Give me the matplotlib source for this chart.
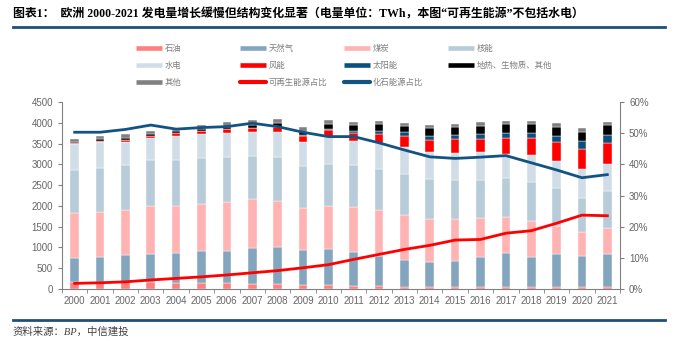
import matplotlib.pyplot as plt
import numpy as np
from matplotlib.lines import Line2D

plt.rcParams['font.family'] = ['Liberation Sans', 'Noto Sans CJK SC']

years = [str(y) for y in range(2000, 2022)]

# 发电量（TWh）
oil = [180, 170, 165, 170, 150, 150, 140, 120, 120, 100, 90, 75, 75, 60, 55, 55, 55, 55, 50, 45, 40, 40]
gas = [558, 593, 653, 679, 723, 771, 781, 859, 898, 846, 880, 823, 719, 638, 602, 626, 722, 803, 727, 789, 762, 802]
coal = [1083, 1090, 1083, 1148, 1124, 1124, 1172, 1179, 1106, 1003, 1020, 1067, 1099, 1082, 1019, 995, 924, 882, 859, 682, 577, 634]
nuclear = [1042, 1066, 1090, 1107, 1107, 1114, 1090, 1049, 1044, 1010, 1025, 1018, 994, 987, 971, 947, 922, 923, 931, 921, 818, 882]
hydro = [618, 618, 553, 536, 585, 563, 578, 563, 602, 585, 635, 578, 634, 657, 657, 657, 673, 585, 649, 643, 683, 650]
wind = [25, 35, 40, 50, 60, 79, 85, 110, 120, 140, 170, 184, 216, 257, 281, 321, 313, 393, 409, 449, 497, 497]
solar = [1, 1, 1, 1, 2, 2, 3, 5, 8, 15, 25, 56, 64, 88, 96, 104, 112, 120, 136, 152, 184, 200]
geo_bio = [35, 40, 50, 40, 45, 50, 55, 70, 95, 90, 125, 140, 161, 160, 185, 185, 208, 209, 209, 225, 224, 241]
other = [67, 68, 87, 70, 85, 97, 107, 104, 90, 101, 96, 70, 80, 73, 72, 80, 82, 80, 80, 80, 81, 65]

# 占比（%）
renew_share = [1.8, 2.0, 2.3, 2.9, 3.4, 3.9, 4.5, 5.2, 5.9, 6.8, 7.8, 9.5, 11.1, 12.7, 14.0, 15.7, 15.9, 17.9, 18.7, 21.1, 23.7, 23.5]
fossil_share = [50.3, 50.3, 51.2, 52.6, 51.3, 51.8, 52.1, 53.2, 52.1, 50.3, 48.9, 48.9, 46.9, 44.6, 42.4, 41.9, 42.3, 42.8, 40.5, 38.2, 35.7, 36.7]

series = [oil, gas, coal, nuclear, hydro, wind, solar, geo_bio, other]
names = ['石油', '天然气', '煤炭', '核能', '水电', '风能', '太阳能', '地热、生物质、其他', '其他']
colors = ['#ff7f7f', '#84a5be', '#ffb3b3', '#b7cbd9', '#d0dde6', '#ff0000', '#0b4f7f', '#000000', '#808080']
red = '#ff0000'
navy = '#125384'
grey = '#666666'

W, H = 676, 341
fig = plt.figure(figsize=(W / 100, H / 100), dpi=100)
ax = fig.add_axes([62 / W, 52 / H, 558 / W, 187 / H])

x = np.arange(len(years))
bottom = np.zeros(len(years))
for vals, c in zip(series, colors):
    ax.bar(x, vals, 0.34, bottom=bottom, color=c, edgecolor='white', linewidth=0.3)
    bottom += np.array(vals)

ax.set_xlim(-0.5, len(years) - 0.5)
ax.set_ylim(0, 4500)
ax.set_yticks(range(0, 4501, 500))
ax.set_xticks(x)
ax.set_xticklabels(years)
ax.set_xticks(np.arange(-0.5, len(years), 1), minor=True)
ax.tick_params(axis='x', which='major', length=0, pad=5, labelsize=7, labelcolor=grey)
ax.tick_params(axis='x', which='minor', length=3, color='#808080')
ax.tick_params(axis='y', length=3, labelsize=7, labelcolor=grey, color='#808080')
for s in ['top', 'right']:
    ax.spines[s].set_visible(False)
for s in ['left', 'bottom']:
    ax.spines[s].set_color('#808080')

ax2 = ax.twinx()
ax2.plot(x, renew_share, color=red, lw=2)
ax2.plot(x, fossil_share, color=navy, lw=2)
ax2.set_ylim(0, 60)
ax2.set_yticks(range(0, 61, 10))
ax2.set_yticklabels([f'{v}%' for v in range(0, 61, 10)])
ax2.tick_params(axis='y', length=3, labelsize=7, labelcolor=grey, color='#808080')
for s in ['top', 'left', 'bottom']:
    ax2.spines[s].set_visible(False)
ax2.spines['right'].set_color('#808080')

# 图例：四列，每列单独放置
handles = [Line2D([], [], color=c, lw=3.3, solid_capstyle='butt') for c in colors]
handles.append(Line2D([], [], color=red, lw=3, solid_capstyle='round'))
handles.append(Line2D([], [], color=navy, lw=3, solid_capstyle='round'))
labels = names + ['可再生能源占比', '化石能源占比']
cols = [[0, 4, 8], [1, 5, 9], [2, 6, 10], [3, 7]]
col_x = [136, 240, 344, 448]
for idx, cx in zip(cols, col_x):
    leg = fig.legend([handles[i] for i in idx], [labels[i] for i in idx],
                     loc='upper left', bbox_to_anchor=(cx / W, 1 - 45 / H),
                     frameon=False, fontsize=6, handlelength=3.1, handletextpad=0.35,
                     labelspacing=1.05, borderpad=0, borderaxespad=0,
                     labelcolor='#7f7f7f')

fig.text(13 / W, 1 - 14 / H,
         '图表1：  欧洲 2000-2021 发电量增长缓慢但结构变化显著（电量单位：TWh，本图“可再生能源”不包括水电）',
         fontsize=8.6, fontweight='bold', va='center', ha='left',
         family=['Liberation Serif', 'Noto Sans CJK SC'])
fig.add_artist(Line2D([13 / W, 665 / W], [1 - 27 / H] * 2, color='#1f4e79', lw=2))
fig.add_artist(Line2D([13 / W, 665 / W], [1 - 320 / H] * 2, color='#1f4e79', lw=2))
fig.text(13 / W, 1 - 332 / H, '资料来源：BP，中信建投', fontsize=7.5, style='italic',
         va='center', ha='left', color='#404040',
         family=['Liberation Serif', 'Noto Sans CJK SC'])

fig.savefig('out.png', dpi=100)
